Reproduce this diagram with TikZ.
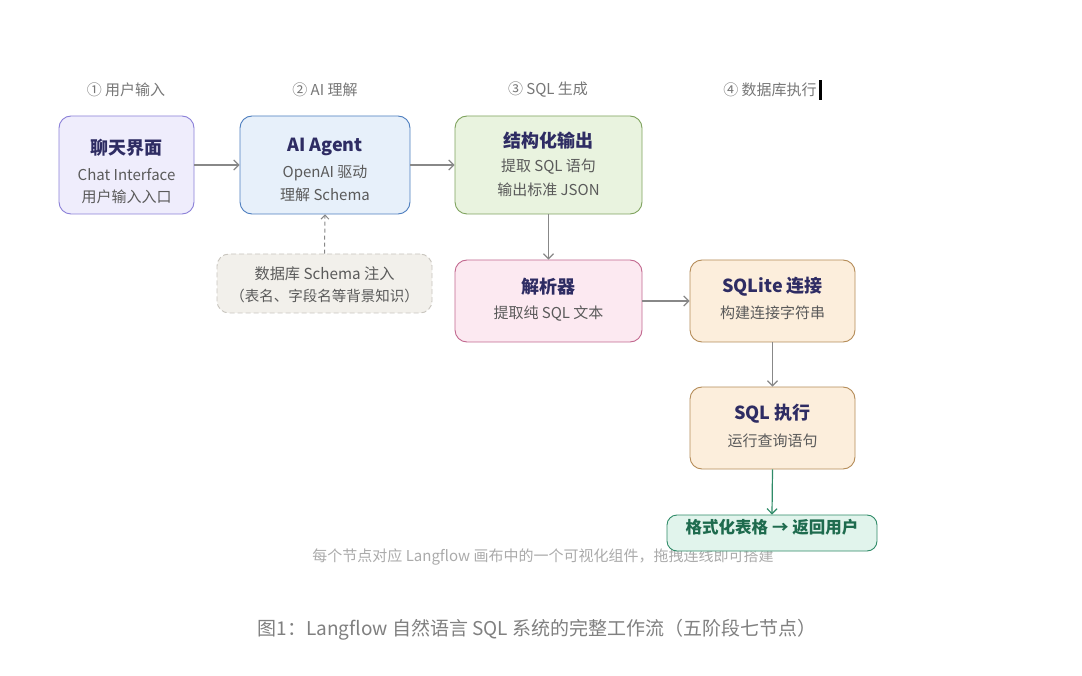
\documentclass[tikz,border=0pt]{standalone}
\usepackage{fontspec}
\setmainfont{Noto Sans CJK SC}
\usetikzlibrary{arrows.meta}
\definecolor{cPurF}{HTML}{EFEDFC}\definecolor{cPurD}{HTML}{8B80D8}
\definecolor{cBluF}{HTML}{E7F0FA}\definecolor{cBluD}{HTML}{4D7EBF}
\definecolor{cGreF}{HTML}{E9F3DF}\definecolor{cGreD}{HTML}{7FA35E}
\definecolor{cPinF}{HTML}{FCE9F1}\definecolor{cPinD}{HTML}{C2688F}
\definecolor{cOraF}{HTML}{FCEEDC}\definecolor{cOraD}{HTML}{B58C58}
\definecolor{cGryF}{HTML}{F2F0EB}\definecolor{cGryD}{HTML}{C8C5BE}
\definecolor{cTeaF}{HTML}{E1F4EC}\definecolor{cTeaD}{HTML}{2F8B68}
\definecolor{cTeaT}{HTML}{1E6B4E}
\definecolor{cArr}{HTML}{888888}
\definecolor{cTitle}{HTML}{2E2C63}
\definecolor{cSub}{HTML}{5A5A5A}
\definecolor{cHead}{HTML}{777777}
\definecolor{cFoot}{HTML}{ABABAB}
\definecolor{cCap}{HTML}{808080}
\tikzset{
  box/.style={draw, line width=0.9pt, rounded corners=12pt, inner sep=0pt},
  ttl/.style={font=\fontsize{18}{21}\selectfont\bfseries, text=cTitle, inner sep=0pt},
  sub/.style={font=\fontsize{15}{18}\selectfont, text=cSub, inner sep=0pt},
  head/.style={font=\fontsize{15}{18}\selectfont, text=cHead, inner sep=0pt},
  arr/.style={draw=cArr, line width=1.2pt, -{Straight Barb[length=5pt,width=10pt]}},
}
\begin{document}
\begin{tikzpicture}[x=1pt,y=-1pt]
\useasboundingbox[fill=white] (0,0) rectangle (1082,676);
% headers
\node[head] (h1) at (126,90) {① 用户输入};
\node[head] (h2) at (325,90) {② AI 理解};
\node[head] (h3) at (548,90) {③ SQL 生成};
\node[head] (h4) at (770,90) {④ 数据库执行};
\fill[black] (819,80) rectangle (822,100);
% boxes
\node[box, fill=cPurF, draw=cPurD, minimum width=135pt, minimum height=98pt] (chat) at (126.5,165) {};
\node[box, fill=cBluF, draw=cBluD, minimum width=170pt, minimum height=98pt] (agent) at (325,165) {};
\node[box, fill=cGreF, draw=cGreD, minimum width=187pt, minimum height=98pt] (struct) at (548.5,165) {};
\node[box, fill=cGryF, draw=cGryD, dashed, dash pattern=on 5pt off 3pt, minimum width=215pt, minimum height=59pt] (schema) at (324.5,283.5) {};
\node[box, fill=cPinF, draw=cPinD, minimum width=187pt, minimum height=82pt] (parser) at (548.5,301) {};
\node[box, fill=cOraF, draw=cOraD, minimum width=165pt, minimum height=82pt] (sqlite) at (772.5,301) {};
\node[box, fill=cOraF, draw=cOraD, minimum width=165pt, minimum height=82pt] (exec) at (772.5,428) {};
% texts
\node[ttl] (chatT) at (126.5,148) {聊天界面};
\node[sub] (chatS1) at (126.5,175) {Chat Interface};
\node[sub] (chatS2) at (126.5,197) {用户输入入口};
\node[ttl] (agentT) at (325,147) {AI Agent};
\node[sub] (agentS1) at (325,173) {OpenAI 驱动};
\node[sub] (agentS2) at (325,195) {理解 Schema};
\node[ttl] (structT) at (548.5,141) {结构化输出};
\node[sub] (structS1) at (548.5,167) {提取 SQL 语句};
\node[sub] (structS2) at (548.5,190) {输出标准 JSON};
\node[sub, font=\fontsize{15.2}{18}\selectfont] (schemaS1) at (324.5,274) {数据库 Schema 注入};
\node[sub, font=\fontsize{14.5}{17}\selectfont] (schemaS2) at (324.5,296) {（表名、字段名等背景知识）};
\node[ttl] (parserT) at (548.5,287) {解析器};
\node[sub] (parserS) at (548.5,314) {提取纯 SQL 文本};
\node[ttl] (sqliteT) at (772.5,287) {SQLite 连接};
\node[sub] (sqliteS) at (772.5,313) {构建连接字符串};
\node[ttl] (execT) at (772.5,414) {SQL 执行};
\node[sub] (execS) at (772.5,441) {运行查询语句};
% footnote
\node[inner sep=0pt, font=\fontsize{15}{18}\selectfont, text=cFoot] (foot) at (543,557.5) {每个节点对应 Langflow 画布中的一个可视化组件，拖拽连线即可搭建};
% result
\node[box, fill=cTeaF, draw=cTeaD, rounded corners=10pt, minimum width=210pt, minimum height=36pt] (result) at (772,533) {};
\node[inner sep=0pt, font=\fontsize{16.5}{19}\selectfont\bfseries, text=cTeaT] (resultT) at (772,527) {格式化表格 → 返回用户};
% caption
\node[inner sep=0pt, font=\fontsize{19}{22}\selectfont, text=cCap] (cap) at (537,630) {图1：Langflow 自然语言 SQL 系统的完整工作流（五阶段七节点）};
% arrows
\draw[arr] (chat.east) -- (agent.west);
\draw[arr] (agent.east) -- (struct.west);
\draw[arr, dashed, dash pattern=on 4pt off 3pt, line width=1pt, -{Straight Barb[length=4pt,width=8pt]}] (schema.north) -- (agent.south);
\draw[arr] (struct.south) -- (parser.north);
\draw[arr] (parser.east) -- (sqlite.west);
\draw[arr] (sqlite.south) -- (exec.north);
\draw[arr, draw=cTeaD] (exec.south) -- (result.north);
\end{tikzpicture}
\end{document}
